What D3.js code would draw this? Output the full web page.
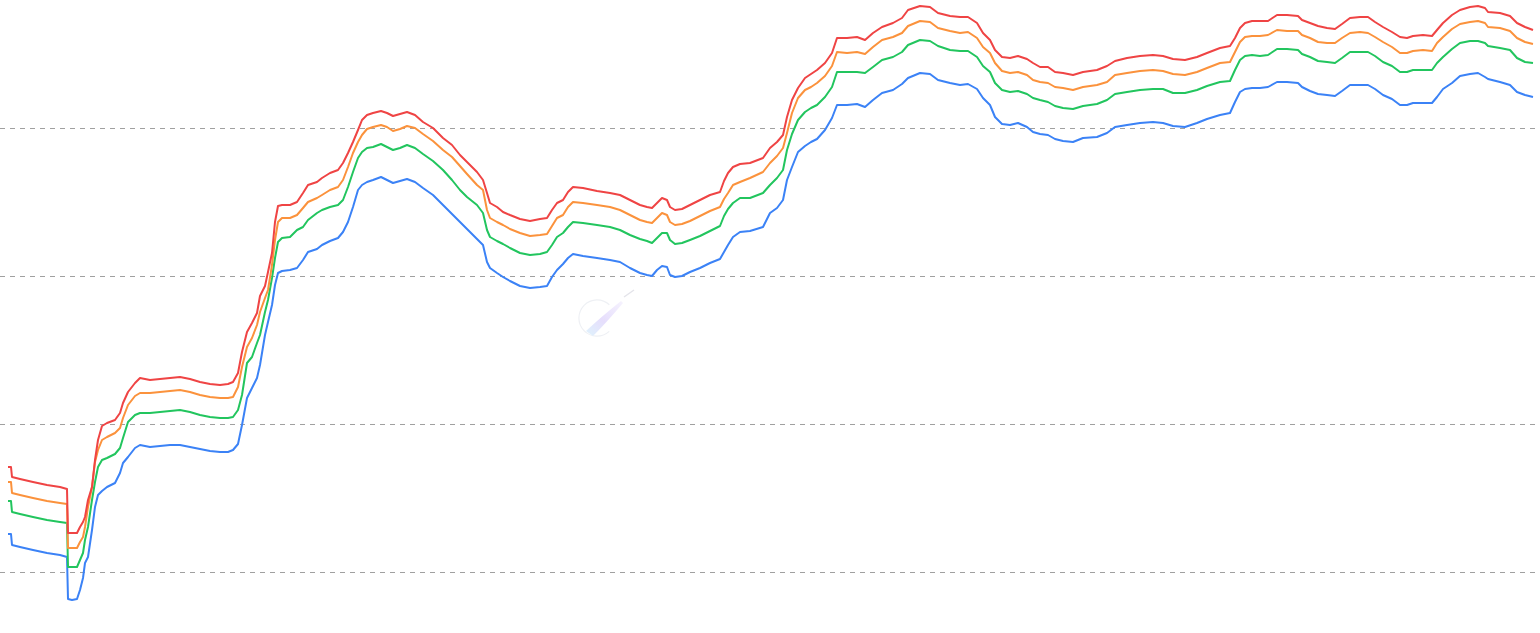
<!DOCTYPE html>
<html>
<head>
<meta charset="utf-8">
<script src="https://cdn.jsdelivr.net/npm/d3@7"></script>
<style>
  html, body { margin: 0; padding: 0; background: #ffffff; }
  svg { display: block; }
</style>
</head>
<body>
<svg id="chart" width="1540" height="633"></svg>
<script>
// sample positions (day index)
const days = [
  0, 3, 4, 12, 25, 39, 52, 59, 60, 64,
  69, 72, 75, 77, 80, 84, 87, 90, 94, 99,
  107, 112, 115, 120, 127, 132, 142, 152, 162, 172,
  182, 192, 202, 212, 220, 225, 230, 234, 239, 244,
  249, 252, 257, 260, 264, 267, 270, 274, 282, 289,
  295, 300, 309, 314, 322, 330, 335, 340, 345, 350,
  354, 359, 365, 373, 379, 385, 392, 399, 407, 415,
  425, 435, 444, 452, 459, 469, 475, 479, 482, 489,
  495, 502, 512, 522, 532, 539, 544, 549, 555, 560,
  565, 575, 589, 602, 612, 622, 632, 639, 644, 649,
  654, 659, 662, 667, 674, 682, 692, 702, 712, 716,
  720, 725, 732, 742, 755, 762, 769, 775, 779, 784,
  790, 797, 803, 809, 817, 824, 829, 839, 849, 857,
  865, 874, 885, 894, 900, 912, 922, 930, 942, 952,
  960, 969, 975, 982, 987, 994, 1002, 1010, 1019, 1025,
  1032, 1040, 1047, 1055, 1065, 1075, 1089, 1099, 1107, 1119,
  1132, 1145, 1155, 1165, 1177, 1189, 1199, 1212, 1222, 1227,
  1232, 1237, 1244, 1252, 1260, 1269, 1279, 1290, 1294, 1302,
  1310, 1319, 1327, 1334, 1342, 1352, 1360, 1367, 1375, 1384,
  1392, 1399, 1405, 1415, 1424, 1429, 1435, 1444, 1452, 1462,
  1470, 1477, 1480, 1492, 1502, 1509, 1517, 1525
];

const redBand = [
  533, 533, 523, 521, 518, 515, 513, 511, 467, 467,
  467, 473, 478, 483, 500, 513, 540, 560, 574, 577,
  580, 587, 597, 608, 617, 622, 620, 621, 622, 623,
  621, 618, 616, 615, 616, 618, 627, 648, 668, 677,
  687, 704, 714, 728, 747, 778, 794, 795, 795, 798,
  807, 815, 818, 822, 827, 830, 837, 847, 858, 870,
  880, 885, 887, 889, 887, 884, 886, 888, 885, 878,
  872, 862, 855, 845, 838, 828, 820, 807, 797, 793,
  788, 785, 781, 779, 781, 782, 790, 797, 800, 808,
  813, 812, 809, 807, 805, 800, 795, 793, 792, 797,
  802, 800, 793, 790, 791, 795, 800, 805, 808, 819,
  827, 833, 836, 837, 842, 852, 858, 865, 883, 900,
  912, 922, 926, 930, 937, 947, 962, 962, 963, 960,
  967, 973, 977, 982, 990, 994, 993, 987, 984, 983,
  983, 977, 967, 960, 950, 943, 942, 944, 941, 937,
  933, 933, 928, 927, 925, 928, 930, 934, 939, 942,
  944, 945, 944, 941, 940, 943, 947, 952, 954, 962,
  972, 977, 979, 979, 979, 985, 985, 984, 980, 977,
  974, 972, 971, 976, 982, 983, 983, 978, 973, 968,
  963, 962, 964, 965, 964, 970, 977, 985, 990, 993,
  994, 992, 988, 987, 984, 977, 973, 970
];

const orangeBand = [
  518, 518, 507, 505, 502, 499, 497, 496, 452, 452,
  452, 458, 463, 473, 493, 513, 538, 550, 560, 563,
  567, 572, 582, 595, 604, 607, 607, 608, 609, 610,
  608, 605, 603, 602, 602, 603, 613, 633, 653, 662,
  675, 688, 702, 710, 735, 760, 778, 782, 782, 785,
  792, 798, 802, 805, 810, 813, 820, 833, 847, 858,
  865, 871, 873, 875, 873, 869, 871, 874, 872, 866,
  859, 850, 843, 834, 826, 815, 810, 790, 782, 778,
  775, 771, 767, 764, 765, 766, 774, 782, 785, 793,
  798, 797, 795, 793, 790, 785, 780, 778, 777, 782,
  787, 785, 778, 775, 776, 779, 784, 789, 793, 801,
  807, 815, 818, 822, 828, 837, 844, 852, 867, 887,
  902, 910, 913, 917, 924, 934, 948, 947, 948, 946,
  953, 960, 963, 967, 974, 979, 978, 972, 969, 967,
  968, 962, 953, 947, 937, 929, 927, 928, 925, 920,
  918, 917, 913, 912, 910, 913, 915, 918, 925, 927,
  929, 930, 929, 926, 925, 928, 932, 937, 938, 948,
  958, 963, 964, 964, 965, 970, 969, 969, 965, 962,
  958, 957, 957, 962, 967, 968, 967, 963, 958, 953,
  947, 947, 949, 950, 949, 957, 963, 971, 976, 978,
  979, 977, 973, 972, 969, 962, 958, 956
];

const greenBand = [
  499, 499, 488, 486, 483, 480, 478, 477, 433, 433,
  433, 440, 447, 460, 473, 500, 518, 533, 540, 542,
  546, 552, 562, 578, 585, 587, 587, 588, 589, 590,
  588, 585, 583, 582, 582, 583, 590, 605, 637, 643,
  657, 665, 688, 700, 722, 742, 758, 762, 763, 770,
  773, 780, 787, 790, 793, 795, 800, 813, 828, 842,
  848, 852, 853, 856, 853, 850, 852, 855, 852, 846,
  839, 830, 820, 810, 803, 795, 787, 770, 763, 759,
  756, 752, 747, 745, 746, 748, 755, 763, 767, 773,
  778, 777, 775, 773, 770, 765, 761, 759, 757, 762,
  767, 767, 760, 756, 757, 760, 764, 769, 774, 784,
  791, 797, 802, 802, 807, 815, 822, 830, 850, 866,
  880, 888, 892, 895, 903, 913, 928, 928, 928, 927,
  933, 940, 943, 948, 955, 960, 959, 954, 950, 949,
  949, 943, 934, 928, 917, 910, 908, 909, 906, 902,
  900, 898, 894, 892, 891, 894, 896, 900, 906, 908,
  910, 911, 911, 907, 907, 910, 914, 918, 919, 930,
  940, 944, 945, 944, 945, 951, 951, 950, 946, 943,
  939, 938, 937, 942, 948, 948, 948, 944, 938, 934,
  928, 928, 930, 930, 930, 937, 943, 951, 957, 959,
  959, 957, 954, 952, 950, 942, 938, 937
];

const blueBand = [
  466, 466, 455, 453, 450, 447, 445, 443, 401, 400,
  401, 410, 422, 437, 443, 470, 493, 505, 509, 513,
  517, 527, 537, 543, 552, 555, 553, 554, 555, 555,
  553, 551, 549, 548, 548, 550, 556, 575, 602, 612,
  622, 635, 665, 678, 695, 715, 727, 729, 730, 732,
  740, 748, 751, 755, 759, 762, 768, 778, 793, 810,
  815, 818, 820, 823, 820, 817, 819, 821, 818, 812,
  805, 795, 786, 778, 771, 761, 755, 738, 732, 727,
  723, 719, 714, 712, 713, 714, 723, 730, 736, 742,
  746, 744, 742, 740, 738, 732, 727, 725, 724, 730,
  734, 733, 725, 723, 724, 728, 732, 737, 741, 748,
  755, 763, 768, 769, 773, 787, 792, 800, 820, 833,
  848, 854, 858, 861, 870, 882, 895, 895, 896, 893,
  900, 907, 910, 916, 922, 927, 926, 920, 917, 915,
  916, 911, 902, 895, 883, 876, 875, 877, 873, 868,
  866, 865, 861, 859, 858, 862, 863, 867, 873, 875,
  877, 878, 877, 874, 873, 877, 881, 885, 887, 898,
  908, 911, 912, 912, 913, 918, 918, 917, 913, 909,
  906, 905, 904, 909, 915, 915, 915, 911, 905, 901,
  895, 895, 897, 897, 897, 903, 911, 917, 924, 926,
  927, 923, 921, 918, 915, 908, 905, 903
];

const gridValues = [872, 724, 576, 428];

const seriesList = [
  { name: "blue",   values: blueBand,   color: "#3b82f6" },
  { name: "green",  values: greenBand,  color: "#22c55e" },
  { name: "orange", values: orangeBand, color: "#fb923c" },
  { name: "red",    values: redBand,    color: "#ef4444" }
];

const svg = d3.select("#chart");
const W = 1540, H = 633;

const x = d3.scaleLinear().domain([0, 1525]).range([8, 1533]);
const y = d3.scaleLinear().domain([367, 1000]).range([H, 0]);

// gridlines
const yAxis = d3.axisLeft(y).tickValues(gridValues).tickSize(-1535).tickFormat("");
const g = svg.append("g").call(yAxis);
g.select(".domain").remove();
g.selectAll(".tick line")
  .attr("stroke", "#a0a0a0")
  .attr("stroke-width", 1)
  .attr("stroke-dasharray", "5,5")
  .attr("shape-rendering", "crispEdges");

// faint watermark
const defs = svg.append("defs");
const grad = defs.append("linearGradient").attr("id", "wmGrad")
  .attr("x1", "0%").attr("y1", "100%").attr("x2", "100%").attr("y2", "0%");
grad.append("stop").attr("offset", "0%").attr("stop-color", "#dff3fc");
grad.append("stop").attr("offset", "45%").attr("stop-color", "#e6defc");
grad.append("stop").attr("offset", "100%").attr("stop-color", "#f6f3fe");
const wm = svg.append("g");
const arc = d3.arc().innerRadius(17.5).outerRadius(18.7)
  .startAngle(2.4).endAngle(2 * Math.PI + 0.75);
wm.append("path").attr("d", arc()).attr("transform", "translate(597,318)")
  .attr("fill", "#eef0f4");
wm.append("path")
  .attr("d", "M586,331 Q601,317 621,301 L623,303 Q607,322 593,336 Z")
  .attr("fill", "url(#wmGrad)");
wm.append("line").attr("x1", 624).attr("y1", 297).attr("x2", 634).attr("y2", 290)
  .attr("stroke", "#e4e4ea").attr("stroke-width", 1.5);

// lines
const lineGen = d3.line()
  .x((d, i) => x(days[i]))
  .y(d => y(d));

svg.append("g").selectAll("path.band")
  .data(seriesList)
  .join("path")
  .attr("class", "band")
  .attr("fill", "none")
  .attr("stroke", d => d.color)
  .attr("stroke-width", 2)
  .attr("stroke-linejoin", "round")
  .attr("d", d => lineGen(d.values));
</script>
</body>
</html>
